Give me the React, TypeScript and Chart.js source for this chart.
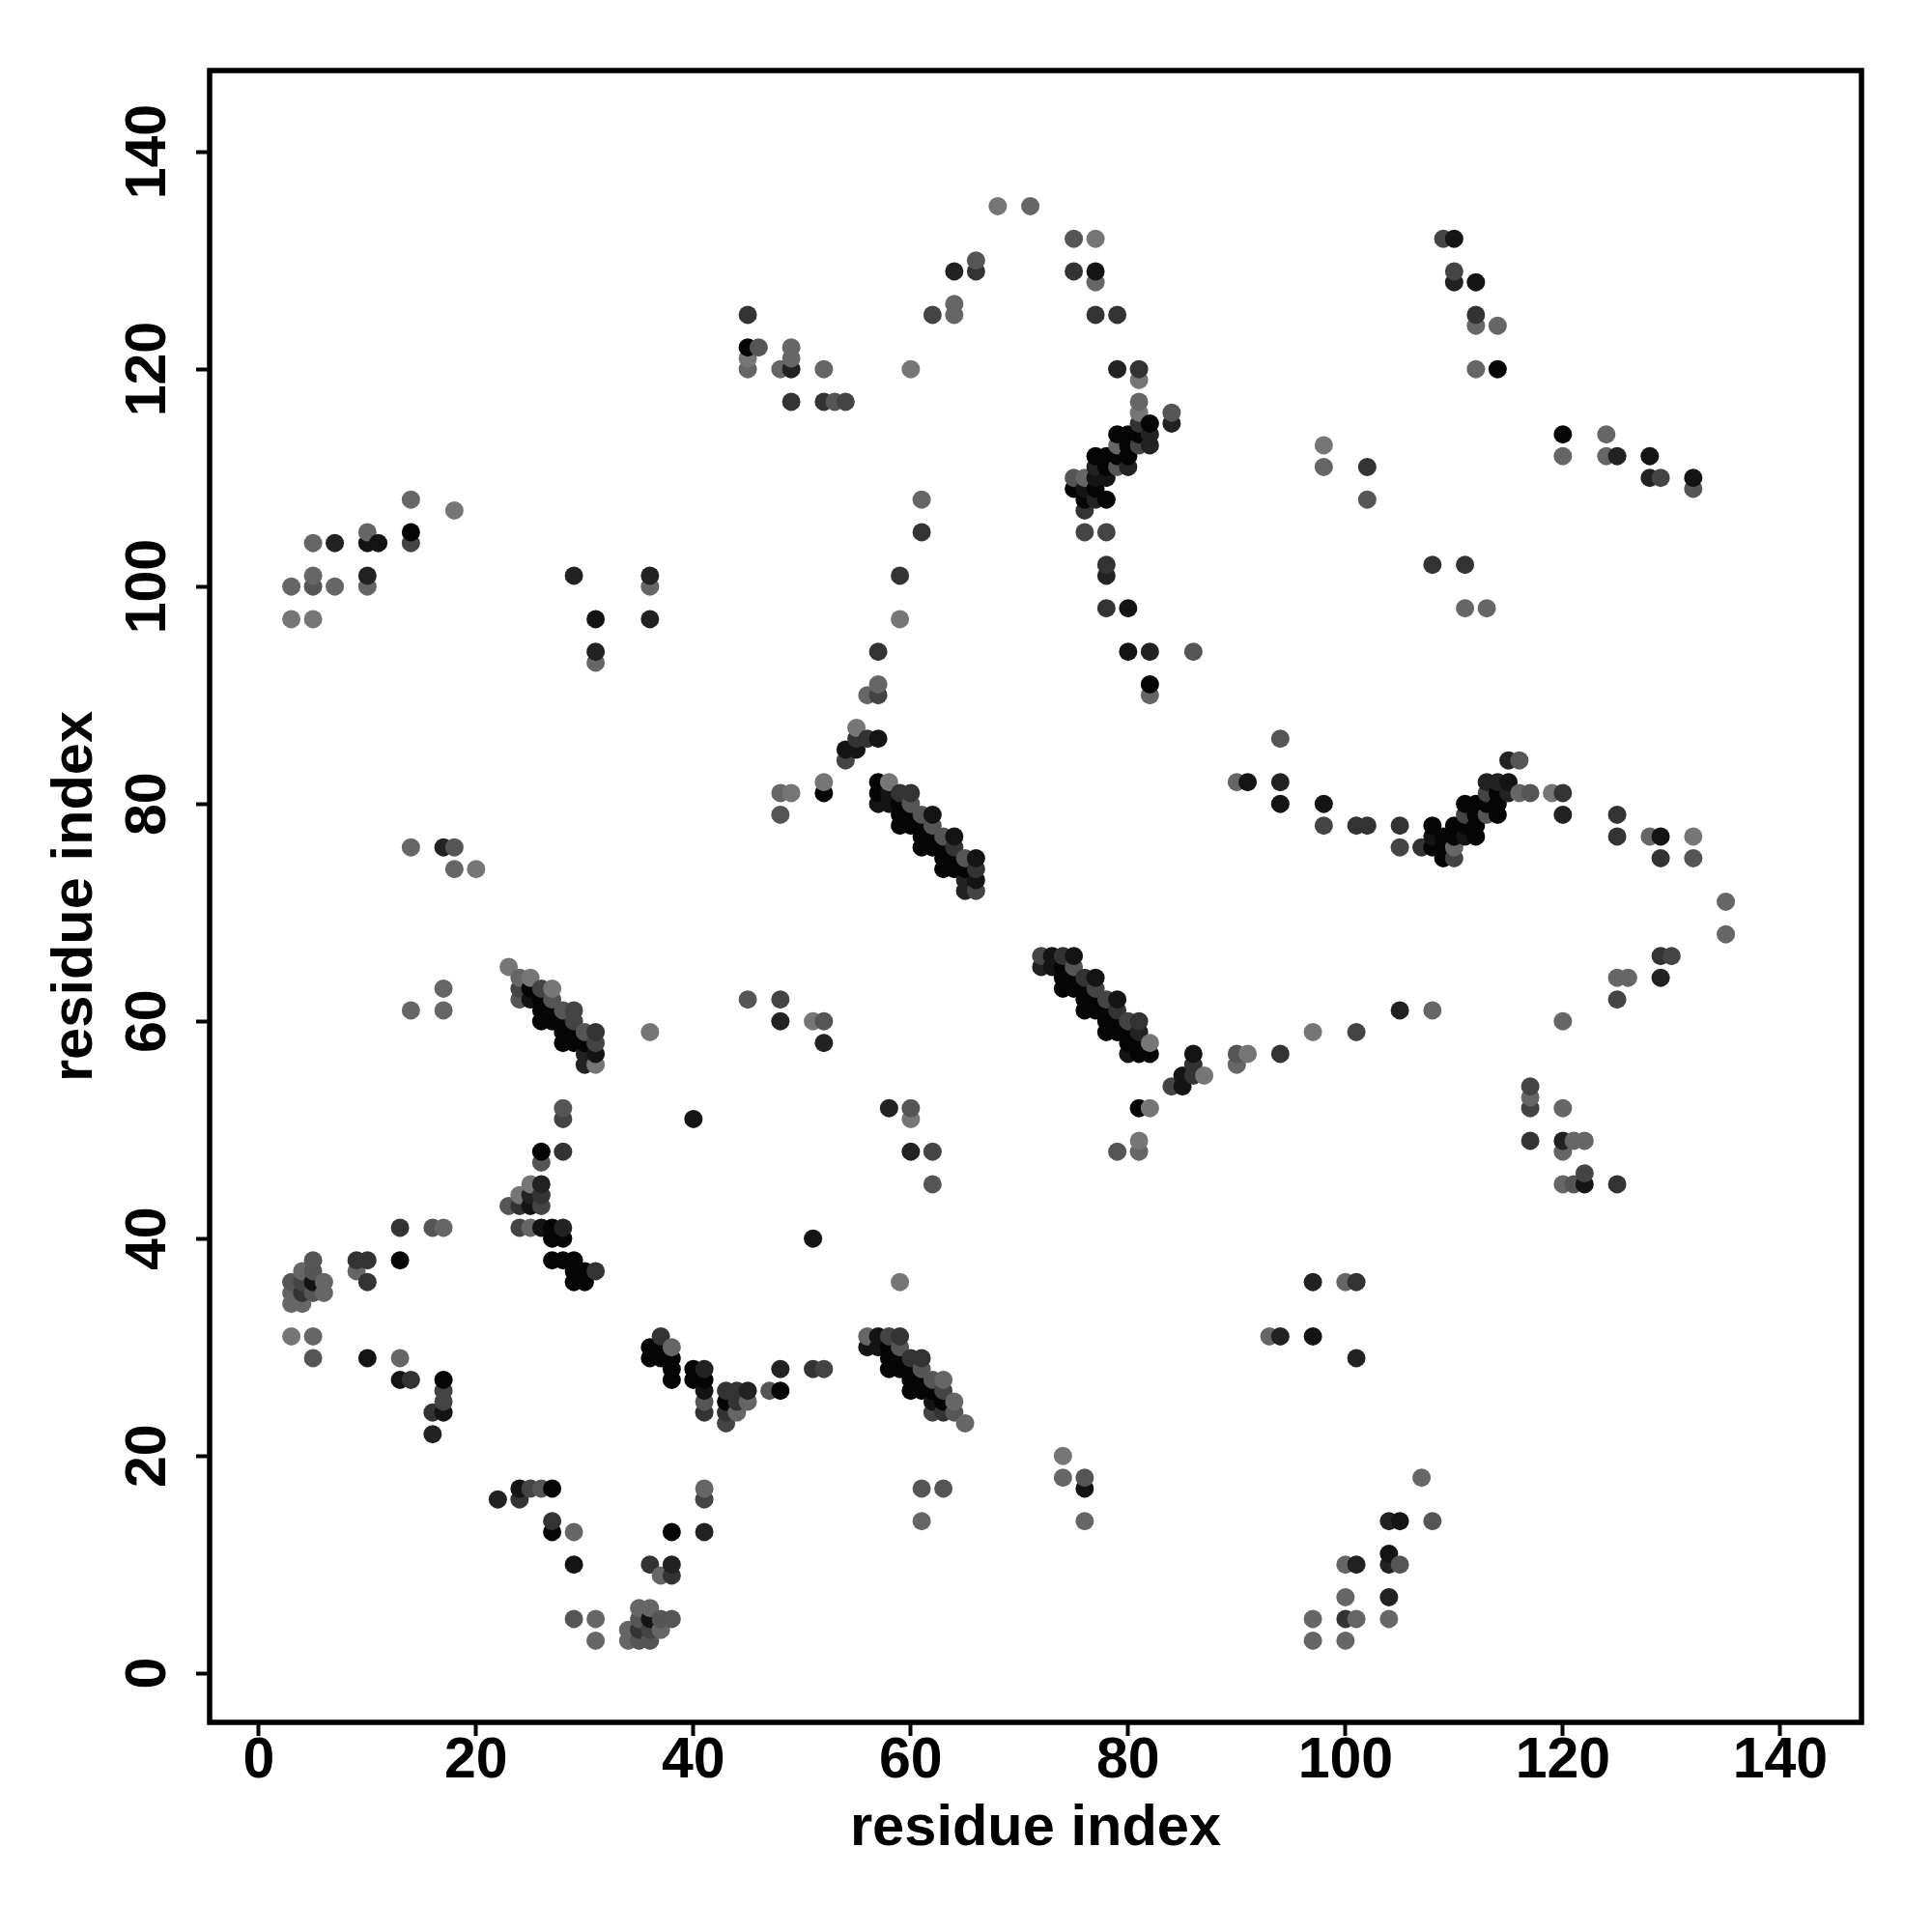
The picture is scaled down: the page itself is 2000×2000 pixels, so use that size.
import React, { useEffect, useRef } from "react";
import { Chart, registerables } from "chart.js";

Chart.register(...registerables);

// contact points [x, y], grouped by grey level
const gray00: number[][] = [
  [13,38],[17,27],[26,48],[27,41],[27,40],[28,40],[27,38],[28,38],[29,38],[29,37],[30,37],[29,36],[30,36],
  [36,30],[37,30],[36,29],[37,29],[38,29],[38,28],[38,27],[40,28],[40,27],[41,27],[43,25],[48,26],
  [58,30],[58,29],[59,29],[58,28],[59,28],[60,28],[60,27],[61,27],[60,26],[61,26],[62,26],[63,25],
  [27,17],[27,13],[38,13],[25,63],[26,62],[26,61],[27,61],[26,60],[27,60],[28,60],[28,59],[29,59],[28,58],[29,58],[30,58],
  [52,81],[57,82],[57,81],[59,80],[59,79],[60,79],[59,78],[60,78],[61,78],[61,77],[62,77],[61,76],[62,76],[63,76],
  [63,75],[64,75],[63,74],[64,74],[65,74],
  [74,65],[74,64],[75,64],[74,63],[75,63],[76,63],[76,62],[77,62],[76,61],[77,61],[78,61],[78,60],[79,60],[78,59],[79,59],[80,59],
  [80,58],[81,58],[81,57],[82,57],[81,52],[14,105],[45,122],[82,115],[79,114],[80,114],[81,114],[80,113],
  [77,112],[78,112],[79,112],[80,112],[78,111],[75,109],[77,109],[76,108],[78,108],[82,91],
  [108,78],[108,76],[109,77],[109,76],[109,75],[110,78],[111,78],[112,78],[110,77],[112,77],[112,79],[111,80],[112,80],[113,80],[114,80],[114,79],[114,81],
  [114,120],[120,114],
];
const gray11: number[][] = [
  [5,36],[10,29],[13,27],[17,24],[25,43],[26,41],[40,51],[51,40],[41,26],[57,31],[56,30],[57,30],[62,25],
  [76,17],[24,17],[29,10],[36,5],[25,62],[31,57],[57,86],[54,85],[55,85],[58,81],[57,80],[58,80],[62,79],[64,77],[66,75],[66,73],
  [73,66],[75,66],[73,65],[77,64],[79,62],[80,57],[86,57],[85,55],[85,54],[10,104],[11,104],[31,97],[77,129],[77,110],[78,110],[76,109],
  [80,98],[80,94],[94,80],[98,80],[111,77],[108,77],[115,82],[129,77],[110,132],[112,128],[128,112],[132,110],[97,31],[105,14],[104,11],[122,45],
  [91,82],
];
const gray22: number[][] = [
  [16,22],[28,41],[25,44],[26,45],[41,28],[45,26],[48,28],[22,16],[41,13],[38,10],[30,57],[30,56],[48,60],[52,58],
  [65,73],[65,72],[72,65],[81,59],[58,52],[60,48],[7,104],[10,101],[29,101],[36,101],[31,94],[36,97],[17,76],
  [64,129],[79,120],[49,120],[84,115],[82,114],[82,113],[77,111],[80,111],[77,108],[78,101],[82,94],
  [94,82],[115,81],[113,82],[114,82],[115,84],[120,79],[129,64],[97,36],[94,31],[101,29],[104,14],[104,10],[101,10],[104,7],
  [110,128],[125,112],[128,110],[120,49],[105,61],
];
const gray33: number[][] = [
  [13,41],[4,35],[9,38],[10,38],[10,36],[14,27],[16,24],[24,43],[26,44],[28,48],[31,37],[37,31],[41,24],[43,26],[44,26],[44,25],[43,24],
  [51,28],[59,31],[60,29],[61,29],[63,24],[24,16],[27,14],[36,10],[38,9],[35,4],[31,59],
  [55,86],[56,86],[59,81],[60,81],[64,76],[66,74],[74,66],[76,64],[79,61],[81,60],[86,56],[86,55],
  [66,129],[75,129],[77,125],[79,125],[45,125],[49,117],[52,117],[81,120],[81,115],[76,107],[78,102],[78,98],[102,111],[61,105],[59,101],[57,94],
  [94,57],[101,36],[101,78],[102,78],[105,78],[107,76],[120,81],[125,79],[125,77],[129,75],[129,66],[100,5],[117,49],[125,45],[108,102],[111,102],[112,125],
];
const gray44: number[][] = [
  [4,36],[17,26],[17,25],[26,43],[28,51],[24,41],[43,23],[52,28],[58,31],[63,26],[62,24],[25,17],[41,16],[36,4],
  [24,63],[26,63],[29,61],[29,60],[31,58],[48,62],[54,84],[57,90],[66,72],[72,66],[77,63],[78,62],[80,60],[84,54],
  [14,104],[62,48],[62,125],[54,117],[81,113],[76,105],[78,105],[101,59],[98,78],[105,76],[111,79],[110,75],[113,81],[130,66],[125,62],
  [117,54],[117,52],[122,46],[109,132],[110,129],[129,110],
];
const gray55: number[][] = [
  [16,41],[3,36],[5,38],[5,37],[5,35],[5,29],[23,43],[26,47],[28,52],[41,25],[47,26],[59,30],[61,28],[62,27],[64,24],
  [61,17],[63,17],[76,18],[26,17],[29,5],[35,5],[37,5],[38,5],[35,3],[36,3],
  [24,62],[27,62],[28,61],[30,59],[45,62],[52,60],[48,79],[60,80],[61,79],[62,78],[63,77],[65,75],[60,52],[75,65],
  [5,100],[18,76],[46,122],[75,132],[66,130],[53,117],[84,116],[75,110],[79,111],[86,94],[102,108],[62,45],
  [90,57],[79,48],[94,86],[113,79],[116,84],[117,81],[132,75],[121,45],[132,109],[108,14],[105,10],
];
const gray66: number[][] = [
  [17,41],[3,35],[3,34],[4,37],[4,34],[6,36],[6,35],[5,31],[9,37],[13,29],[25,41],[38,30],[45,25],[44,24],[56,31],[63,27],[64,25],[65,23],
  [61,14],[74,18],[76,14],[29,13],[41,17],[37,9],[31,5],[31,3],[35,6],[36,6],[37,4],[34,4],[34,3],
  [24,64],[48,81],[56,90],[57,91],[61,108],[14,61],[17,63],[17,61],[81,48],[90,56],
  [14,108],[5,104],[10,105],[5,101],[3,100],[7,100],[10,100],[36,100],[31,93],[14,76],[18,74],
  [71,135],[64,126],[64,125],[77,128],[45,120],[48,120],[49,122],[49,121],[52,120],
  [81,117],[76,110],[79,113],[98,111],[82,90],[116,81],[90,82],[110,76],[128,77],[135,71],[135,68],[125,64],[126,64],[120,60],[108,61],
  [100,36],[93,31],[117,53],[120,52],[120,48],[121,49],[122,49],[120,45],[112,124],[114,124],[112,120],[120,112],[124,114],[124,112],[111,98],[113,98],
  [107,18],[100,10],[100,7],[97,5],[101,5],[104,5],[97,3],[100,3],
];
const gray77: number[][] = [
  [3,31],[24,44],[25,45],[59,36],[74,20],[23,65],[25,64],[27,63],[31,56],[36,59],[51,60],[55,87],[52,82],[49,81],[58,82],[82,58],
  [60,51],[87,55],[91,57],[97,59],[81,49],[82,52],[3,97],[5,97],[18,107],[20,74],[68,135],[77,132],[45,121],[60,120],[81,119],[81,116],
  [98,113],[119,81],[132,77],[59,97],
];

const tickValues = [0, 20, 40, 60, 80, 100, 120, 140];
const axisTitle = "residue index";

const shadeGroups: [number[][], string][] = [
  [gray00, "#050505"], [gray11, "#141414"], [gray22, "#222222"], [gray33, "#333333"],
  [gray44, "#444444"], [gray55, "#555555"], [gray66, "#666666"], [gray77, "#767676"],
];

export default function App() {
  const ref = useRef<HTMLCanvasElement>(null);
  useEffect(() => {
    document.body.style.margin = "0";
    const seen = new Map<string, { x: number; y: number; c: string }>();
    shadeGroups.forEach(([pts, c]) => pts.forEach(([x, y]) => seen.set(`${x},${y}`, { x, y, c })));
    const pts = [...seen.values()].sort((a, b) => a.x - b.x || a.y - b.y);
    const font = { family: "'Liberation Sans'", weight: "bold" as const };
    const frame = {
      id: "frame",
      afterDatasetsDraw(c: any) {
        const { left, top, width, height } = c.chartArea;
        c.ctx.save();
        c.ctx.strokeStyle = "#000";
        c.ctx.lineWidth = 5.5;
        c.ctx.strokeRect(left, top, width, height);
        c.ctx.restore();
      },
    };
    const scale = (isX: boolean) => ({
      type: "linear" as const,
      min: -4.52,
      max: 147.48,
      afterBuildTicks: (a: any) => { a.ticks = tickValues.map((value) => ({ value })); },
      afterFit: (a: any) => { if (isX) a.height = 217; else a.width = 217; },
      border: { display: false },
      grid: { drawOnChartArea: false, drawTicks: true, tickLength: 14, tickWidth: 4, tickColor: "#000" },
      ticks: {
        color: "#000",
        font: { ...font, size: 59 },
        padding: isX ? -9 : -1,
        autoSkip: false,
        includeBounds: false,
        crossAlign: isX ? ("near" as const) : ("center" as const),
        minRotation: isX ? 0 : 90,
        maxRotation: isX ? 0 : 90,
      },
      title: {
        display: true,
        text: axisTitle,
        color: "#000",
        font: { ...font, size: 59.6 },
        padding: isX ? { top: 0, bottom: 71 } : { top: 43, bottom: 0 },
      },
    });
    const chart = new Chart(ref.current!, {
      type: "scatter",
      data: {
        datasets: [{
          data: pts.map((p) => ({ x: p.x, y: p.y })),
          backgroundColor: pts.map((p) => p.c),
          borderWidth: 0,
          pointRadius: 9.5,
          pointHoverRadius: 9.5,
        }],
      },
      options: {
        animation: false,
        responsive: false,
        layout: { padding: { top: 73, right: 73, left: 0, bottom: 0 } },
        plugins: { legend: { display: false }, tooltip: { enabled: false } },
        scales: { x: scale(true), y: scale(false) },
      },
      plugins: [frame],
    } as any);
    return () => chart.destroy();
  }, []);
  return <canvas ref={ref} width={2000} height={2000} style={{ display: "block", background: "#fff" }} />;
}
